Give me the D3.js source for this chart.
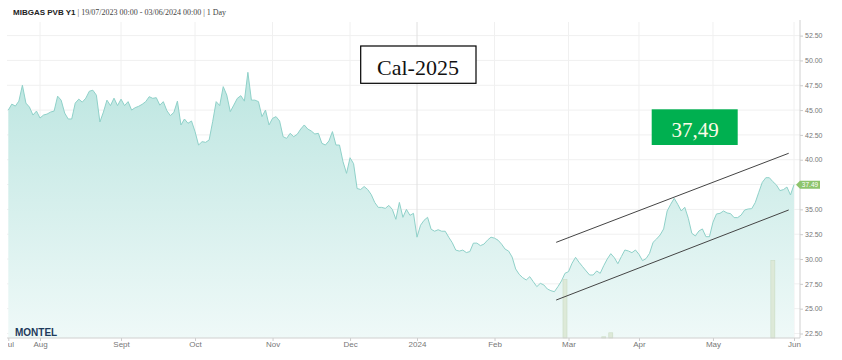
<!DOCTYPE html>
<html><head><meta charset="utf-8">
<script src="https://cdn.jsdelivr.net/npm/d3@7"></script>
<style>body{margin:0;background:#fff}svg{display:block}</style>
</head><body><svg id="c" width="842" height="360"></svg>
<script>
// ---------- data ----------
const startDate = [2023, 6, 19];
const endDate = [2024, 5, 3];
const holidays = ["2023-12-25", "2023-12-26", "2024-01-01", "2024-03-29", "2024-04-01"];
const prices = [
45.0,45.6,45.4,45.9,47.5,45.7,45.3,44.5,44.9,44.2,
44.5,44.6,44.8,44.9,46.4,46.0,44.7,44.1,44.1,45.7,
46.1,45.8,46.2,46.9,47.0,46.5,43.8,44.8,46.0,45.45,
46.2,45.45,46.1,45.45,45.85,45.0,45.24,45.38,45.58,45.85,
46.35,46.18,46.25,45.5,45.85,44.94,44.44,44.77,45.9,43.5,
44.1,43.67,43.9,42.83,41.48,41.82,41.75,41.99,43.83,45.85,
45.45,47.36,46.52,44.84,45.5,46.18,46.45,45.9,48.8,46.0,
46.0,45.85,44.34,45.0,43.5,44.17,44.34,43.9,42.32,42.15,
42.66,42.32,42.56,43.09,43.5,43.09,42.89,42.59,42.66,41.65,
41.48,41.89,42.83,41.48,41.48,39.8,38.63,40.2,39.6,37.1,
37.0,37.3,37.0,36.5,35.7,35.2,35.2,35.1,35.4,35.0,
34.0,35.7,34.2,35.0,34.4,34.6,32.2,33.4,33.9,34.2,
33.0,32.8,32.95,32.8,32.8,32.2,31.65,30.9,30.8,30.9,
30.65,30.75,31.6,31.6,31.35,31.5,31.9,32.2,32.1,31.9,
31.5,31.0,30.8,30.2,29.0,28.46,28.12,27.89,28.22,27.72,
27.22,27.55,27.39,26.98,26.81,26.71,27.22,27.79,28.56,28.73,
29.57,30.17,29.67,29.23,28.8,28.39,28.39,28.8,28.56,29.33,
30.0,30.54,30.14,29.53,30.24,30.91,30.81,30.64,30.91,30.47,
29.84,30.04,30.57,31.68,32.02,32.42,33.03,34.84,35.51,36.11,
35.51,34.84,35.21,34.1,32.59,32.32,32.82,33.03,32.25,32.25,
33.7,34.54,34.6,34.84,34.64,34.57,34.17,34.17,34.43,34.94,
35.04,35.07,35.68,36.72,37.72,38.19,38.19,37.79,37.46,36.89,
36.99,37.25,36.45,37.49
];
const monthLabels = ["Jul","Aug","Sept","Oct","Nov","Dec","2024","Feb","Mar","Apr","May","Jun"];
const yTicks = [22.5,25,27.5,30,32.5,35,37.5,40,42.5,45,47.5,50,52.5];
const lastPrice = 37.49;
const volumeIdx = [158, 169, 171, 217];
const volumeVals = [73, 1.5, 6.5, 97];
const channelUpper = [[155.5, 31.68], [221.5, 40.65]];
const channelLower = [[155.5, 25.87], [221.5, 34.94]];
const titleBold = "MIBGAS PVB Y1";
const titleRest = " | 19/07/2023 00:00 - 03/06/2024 00:00 | 1 Day";
const noteCal = "Cal-2025";
const notePrice = "37,49";

// ---------- trading days ----------
const fmt = d3.utcFormat("%Y-%m-%d");
const days = d3.utcDay.range(new Date(Date.UTC(...startDate)), new Date(Date.UTC(endDate[0], endDate[1], endDate[2] + 1)))
  .filter(d => d.getUTCDay() !== 0 && d.getUTCDay() !== 6 && !holidays.includes(fmt(d)));
const data = days.map((d, i) => ({i, date: d, v: prices[i]}));
const monthIdx = [];
days.forEach((d, i) => { if (i === 0 || d.getUTCMonth() !== days[i - 1].getUTCMonth()) monthIdx.push(i); });

// ---------- layout ----------
const plot = {left: 7, right: 800, top: 22, bottom: 338};
const x = d3.scaleLinear().domain([0, data.length - 1]).range([8.3, 794]);
const y = d3.scaleLinear().domain([22.5, 52.5]).range([333.5, 35.6]);
const yv = d3.scaleLinear().domain([0, 100]).range([plot.bottom, 258]);

const svg = d3.select("#c");
const defs = svg.append("defs");
const g = defs.append("linearGradient").attr("id", "fill").attr("gradientUnits", "userSpaceOnUse")
  .attr("x1", 0).attr("x2", 0).attr("y1", plot.top).attr("y2", plot.bottom);
g.append("stop").attr("offset", 0).attr("stop-color", "#b3e2dc");
g.append("stop").attr("offset", 1).attr("stop-color", "#eff9f8");
defs.append("clipPath").attr("id", "xclip").append("rect").attr("x", 8).attr("y", -5).attr("width", 834).attr("height", 30);

// grid
svg.append("g").selectAll("line").data(yTicks).join("line")
  .attr("x1", plot.left).attr("x2", plot.right).attr("y1", d => y(d)).attr("y2", d => y(d))
  .attr("stroke", "#f0f0f0").attr("stroke-width", 1);
svg.append("g").selectAll("line").data(monthIdx.slice(1)).join("line")
  .attr("x1", d => x(d)).attr("x2", d => x(d)).attr("y1", plot.top).attr("y2", plot.bottom)
  .attr("stroke", (d, k) => monthLabels[k + 1] === "2024" ? "#e0e0e0" : "#f0f0f0").attr("stroke-width", 1);

// area + line
svg.append("path").datum(data)
  .attr("d", d3.area().x(d => x(d.i)).y0(plot.bottom).y1(d => y(d.v)))
  .attr("fill", "url(#fill)");
svg.append("path").datum(data)
  .attr("d", d3.line().x(d => x(d.i)).y(d => y(d.v)))
  .attr("fill", "none").attr("stroke", "#8fd1c9").attr("stroke-width", 1);

// volume bars
svg.append("g").selectAll("rect").data(volumeIdx.map((i, k) => ({i, v: volumeVals[k]}))).join("rect")
  .attr("x", d => x(d.i) - 2).attr("width", 4)
  .attr("y", d => yv(d.v)).attr("height", d => plot.bottom - yv(d.v))
  .attr("fill", "#dde9d8").attr("stroke", "#c9dbc4").attr("stroke-width", 0.6);

// channel lines
[channelUpper, channelLower].forEach(c => {
  svg.append("path").datum(c)
    .attr("d", d3.line().x(d => x(d[0])).y(d => y(d[1])))
    .attr("stroke", "#444").attr("stroke-width", 1).attr("fill", "none");
});

// axes
const ty = y(lastPrice);
const labelTicks = yTicks.filter(v => Math.abs(y(v) - ty) > 6);
const ya = svg.append("g").attr("transform", `translate(${plot.right},0)`)
  .call(d3.axisRight(y).tickValues(labelTicks).tickFormat(d3.format(".2f")).tickSize(3).tickPadding(2));
ya.select(".domain").remove();
ya.selectAll("line").attr("stroke", "#ccc");
ya.selectAll("text").attr("fill", "#777").style("font", "7px 'Liberation Sans', Arial, sans-serif");
svg.append("line").attr("x1", plot.right).attr("x2", plot.right).attr("y1", 20).attr("y2", plot.bottom)
  .attr("stroke", "#d0d0d0");

const xa = svg.append("g").attr("transform", `translate(0,${plot.bottom})`).attr("clip-path", "url(#xclip)")
  .call(d3.axisBottom(x).tickValues(monthIdx).tickFormat((d, k) => monthLabels[k]).tickSize(3).tickPadding(0.5));
xa.select(".domain").remove();
xa.selectAll("line").attr("stroke", "#ccc");
xa.selectAll("text").attr("fill", "#777").style("font", "8px 'Liberation Sans', Arial, sans-serif");
svg.append("line").attr("x1", plot.left).attr("x2", plot.right).attr("y1", plot.bottom).attr("y2", plot.bottom)
  .attr("stroke", "#d0d0d0");

// price tag
svg.append("path")
  .attr("d", `M${plot.right - 4},${ty} L${plot.right},${ty - 4} L${plot.right + 20},${ty - 4} L${plot.right + 20},${ty + 4} L${plot.right},${ty + 4} Z`)
  .attr("fill", "#8dc46c");
svg.append("text").attr("x", plot.right + 10).attr("y", ty + 2.3).attr("text-anchor", "middle")
  .attr("fill", "#fff").style("font", "6.5px 'Liberation Sans', Arial, sans-serif").text(d3.format(".2f")(lastPrice));

// title
const t = svg.append("text").attr("x", 13).attr("y", 14.7);
t.append("tspan").style("font", "bold 8px 'Liberation Sans', Arial, sans-serif").attr("fill", "#222").text(titleBold);
t.append("tspan").style("font", "8px 'Liberation Serif', serif").attr("fill", "#444").text(titleRest);

// logo
svg.append("text").attr("x", 15).attr("y", 336).attr("fill", "#1e3a5c")
  .style("font", "900 10px 'Liberation Sans', Arial, sans-serif").text("MONTEL");

// annotations
svg.append("rect").attr("x", 360.7).attr("y", 46).attr("width", 115.3).attr("height", 37.3)
  .attr("fill", "#fff").attr("stroke", "#000").attr("stroke-width", 1.2);
svg.append("text").attr("x", 418).attr("y", 74.7).attr("text-anchor", "middle").attr("fill", "#111")
  .style("font", "22px 'Liberation Serif', 'DejaVu Serif', serif").text(noteCal);
svg.append("rect").attr("x", 651.7).attr("y", 109.3).attr("width", 86).attr("height", 35.7).attr("fill", "#00b050");
svg.append("text").attr("x", 695).attr("y", 137.3).attr("text-anchor", "middle").attr("fill", "#fffbe8")
  .style("font", "21px 'Liberation Serif', 'DejaVu Serif', serif").text(notePrice);
</script>
</body></html>
